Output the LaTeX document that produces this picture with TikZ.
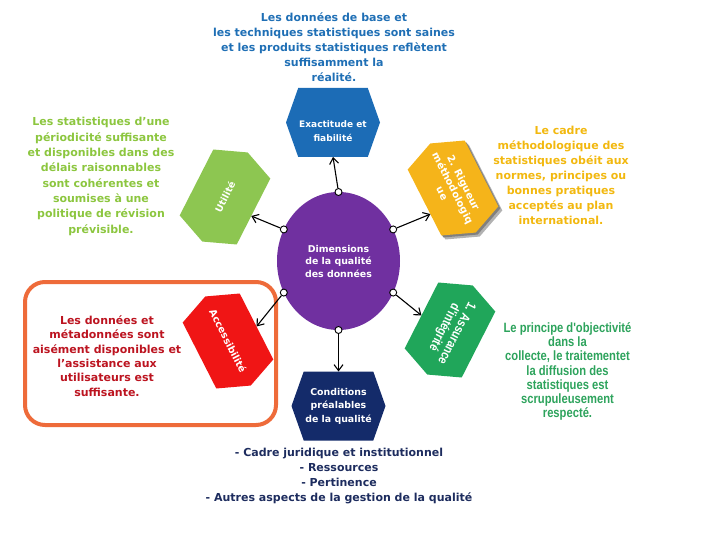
\documentclass[tikz,border=0pt]{standalone}
\usepackage{fontspec}
\setmainfont{DejaVu Sans}
\newfontfamily\narrowfont{Liberation Sans}[FakeStretch=0.83]
\usetikzlibrary{arrows.meta,calc,backgrounds,shapes.geometric}
\definecolor{topblue}{HTML}{1F6FB5}
\definecolor{hexblue}{HTML}{1C6CB6}
\definecolor{lgreen}{HTML}{8CC63F}
\definecolor{hexlgreen}{HTML}{8DC651}
\definecolor{gold}{HTML}{F2B80F}
\definecolor{hexgold}{HTML}{F5B41A}
\definecolor{dred}{HTML}{BC1420}
\definecolor{hexred}{HTML}{F01515}
\definecolor{mgreen}{HTML}{2DA35C}
\definecolor{hexgreen}{HTML}{20A65A}
\definecolor{navy}{HTML}{1D2C5E}
\definecolor{hexnavy}{HTML}{142B6A}
\definecolor{purp}{HTML}{7030A0}
\definecolor{orangeframe}{HTML}{EE6B3A}

\newcommand\HexBack[2]{%
  \fill[#2] (#1.west) -- ($(#1.north west)!0.13!(#1.north east)$)
    -- ($(#1.north east)!0.13!(#1.north west)$) -- (#1.east)
    -- ($(#1.south east)!0.13!(#1.south west)$)
    -- ($(#1.south west)!0.13!(#1.south east)$) -- cycle;}

\tikzset{
  desc/.style={align=center, font=\bfseries\fontsize{11}{15}\selectfont},
  hexflat/.style={rectangle, outer sep=0pt, inner sep=0pt, minimum width=94pt,
    minimum height=69pt, text=white, align=center},
  hexrot/.style={rectangle, outer sep=0pt, inner sep=0pt, minimum width=100pt,
    minimum height=64pt, text=white, align=center},
  dot/.style={circle, draw=black, fill=white, line width=0.9pt, inner sep=0pt,
    minimum size=7pt},
  conn/.style={draw=black, line width=1.1pt,
    -{Straight Barb[length=6pt,width=9pt]}},
}

\begin{document}
\begin{tikzpicture}[x=1pt,y=-1pt]
\useasboundingbox (0,0) rectangle (720,540);

% orange frame
\draw[orangeframe, line width=4pt, rounded corners=20pt] (25,282) rectangle (276,425);

% centre ellipse
\node[ellipse, fill=purp, minimum width=123pt, minimum height=138pt, inner sep=0pt,
  outer sep=0pt, text=white, align=center,
  font=\bfseries\fontsize{9.4}{12.5}\selectfont] (dim) at (338.5,261)
  {Dimensions\\de la qualité\\des données};

% hexagon nodes
\node[hexflat] (exact) at (333,122.5) {};
\node[align=center, text=white, font=\bfseries\fontsize{9}{13.3}\selectfont]
  (exacttxt) at (333,131) {Exactitude et\\fiabilité};
\node[hexflat, font=\bfseries\fontsize{9.4}{13.5}\selectfont] (cond) at (338.5,406)
  {Conditions\\préalables\\de la qualité};
\node[hexrot, rotate=63, font=\bfseries\fontsize{9.5}{12}\selectfont] (util) at (225,197)
  {Utilité};
\node[hexrot, rotate=-63, font=\bfseries\fontsize{10}{12}\selectfont] (rig) at (453,188)
  {2. Rigueur\\méthodologiq\\ue};
\node[hexrot, rotate=-63, font=\bfseries\fontsize{9.8}{12}\selectfont] (acc) at (228,341)
  {Accessibilité};
\node[hexrot, rotate=243, font=\narrowfont\bfseries\fontsize{13}{14}\selectfont] (ass) at (450,330)
  {1. Assurance\\d'intégrité};

% hexagon fills
\begin{scope}[on background layer]
  \begin{scope}[transform canvas={shift={(4pt,-4pt)}}]
    \HexBack{rig}{black!30}
  \end{scope}
  \begin{scope}[transform canvas={shift={(2pt,-2pt)}}]
    \HexBack{rig}{black!50}
  \end{scope}
  \HexBack{exact}{hexblue}
  \HexBack{cond}{hexnavy}
  \HexBack{util}{hexlgreen}
  \HexBack{rig}{hexgold}
  \HexBack{acc}{hexred}
  \HexBack{ass}{hexgreen}
\end{scope}

% connectors
\node[dot] (p1) at (dim.90) {};
\node[dot] (p2) at (dim.150) {};
\node[dot] (p3) at (dim.30) {};
\node[dot] (p4) at (dim.210) {};
\node[dot] (p5) at (dim.330) {};
\node[dot] (p6) at (dim.270) {};
\draw[conn] (p1) -- (exact.south);
\draw[conn] (p2) -- ($(util.south)!0.1!(util.south west)$);
\draw[conn] (p3) -- ($(rig.south)!0.26!(rig.south east)$);
\draw[conn] (p4) -- (acc.north);
\draw[conn] (p5) -- (ass.south);
\draw[conn] (p6) -- (cond.north);

% descriptive texts
\node[desc, text=topblue] (ttop) at (334,47)
  {Les données de base et\\les techniques statistiques sont saines\\et les produits statistiques reflètent\\suffisamment la\\réalité.};
\node[desc, text=lgreen, font=\bfseries\fontsize{11}{15.3}\selectfont] (tleft) at (101,176.5)
  {Les statistiques d’une\\périodicité suffisante\\et disponibles dans des\\délais raisonnables\\sont cohérentes et\\soumises à une\\politique de révision\\prévisible.};
\node[desc, text=gold] (tright) at (561,175)
  {Le cadre\\méthodologique des\\statistiques obéit aux\\normes, principes ou\\bonnes pratiques\\acceptés au plan\\international.};
\node[desc, text=dred, font=\bfseries\fontsize{11}{14.4}\selectfont] (tred) at (107,356)
  {Les données et\\métadonnées sont\\aisément disponibles et\\l’assistance aux\\utilisateurs est\\suffisante.};
\node[align=center, text=mgreen, font=\narrowfont\bfseries\fontsize{13.5}{14.2}\selectfont] (tgreen) at (567.5,371.5)
  {Le principe d'objectivité\\dans la\\collecte, le traitementet\\la diffusion des\\statistiques est\\scrupuleusement\\respecté.};
\node[desc, text=navy, font=\bfseries\fontsize{11}{15.3}\selectfont] (tbot) at (339,476)
  {- Cadre juridique et institutionnel\\- Ressources\\- Pertinence\\- Autres aspects de la gestion de la qualité};
\end{tikzpicture}
\end{document}
